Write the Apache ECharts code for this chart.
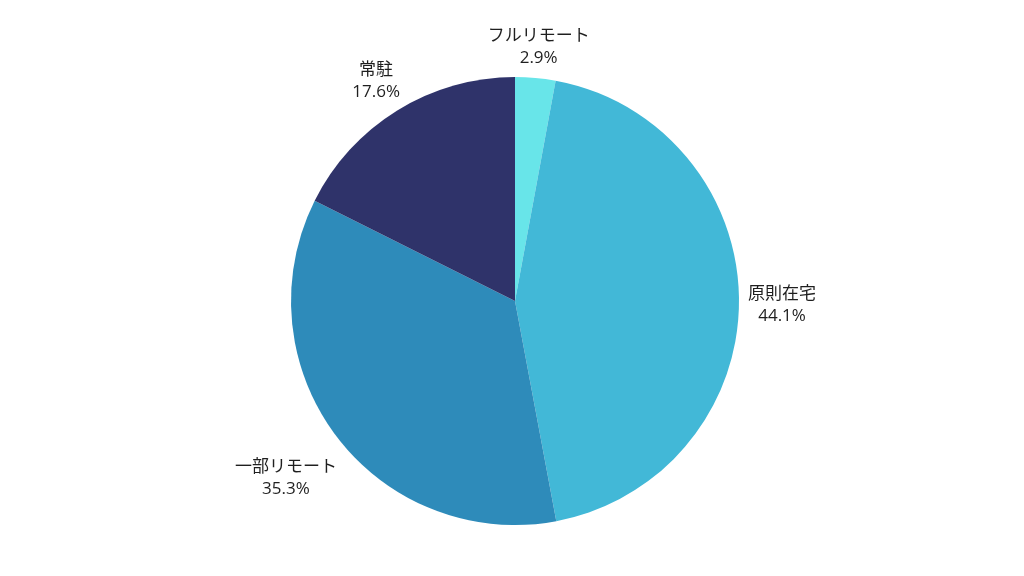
<!DOCTYPE html>
<html>
<head>
<meta charset="utf-8">
<script src="https://cdn.jsdelivr.net/npm/echarts@6/dist/echarts.min.js"></script>
<style>
html,body{margin:0;padding:0;background:#fff;}
#chart{width:1024px;height:576px;}
</style>
</head>
<body>
<div id="chart"></div>
<script>
const categories = ['フルリモート', '原則在宅', '一部リモート', '常駐'];
const shares = [2.9, 44.1, 35.3, 17.6];
const colors = ['#68E5E9', '#42B8D7', '#2E8BBA', '#2F336A'];

const CX = 515, CY = 301, R = 224, GAP = 9, DY = 4.5;
const total = shares.reduce((a, b) => a + b, 0);
const midAngles = [];
let acc = 0;
shares.forEach(v => {
  const a = v / total * 360;
  midAngles.push((acc + a / 2) * Math.PI / 180);
  acc += a;
});

const chart = echarts.init(document.getElementById('chart'));
chart.setOption({
  backgroundColor: '#ffffff',
  animation: false,
  series: [{
    type: 'pie',
    center: [CX, CY],
    radius: R,
    startAngle: 90,
    clockwise: true,
    data: categories.map((c, i) => ({ name: c, value: shares[i], itemStyle: { color: colors[i] } })),
    itemStyle: { borderWidth: 0 },
    label: {
      show: true,
      position: 'outside',
      formatter: p => p.name + '\n' + p.value.toFixed(1) + '%',
      fontFamily: '"Open Sans", "Noto Sans CJK JP", sans-serif',
      fontSize: 17,
      lineHeight: 22,
      color: '#1f1f1f',
      align: 'center'
    },
    labelLine: { show: false },
    labelLayout: function (params) {
      const t = midAngles[params.dataIndex];
      const s = Math.sin(t), c = Math.cos(t);
      const w = params.labelRect.width, h = params.labelRect.height;
      const d = R + GAP + Math.abs(s) * w / 2 + Math.abs(c) * h / 2;
      return {
        x: CX + d * s,
        y: CY - d * c + DY,
        align: 'center',
        verticalAlign: 'middle'
      };
    }
  }]
});
</script>
</body>
</html>
